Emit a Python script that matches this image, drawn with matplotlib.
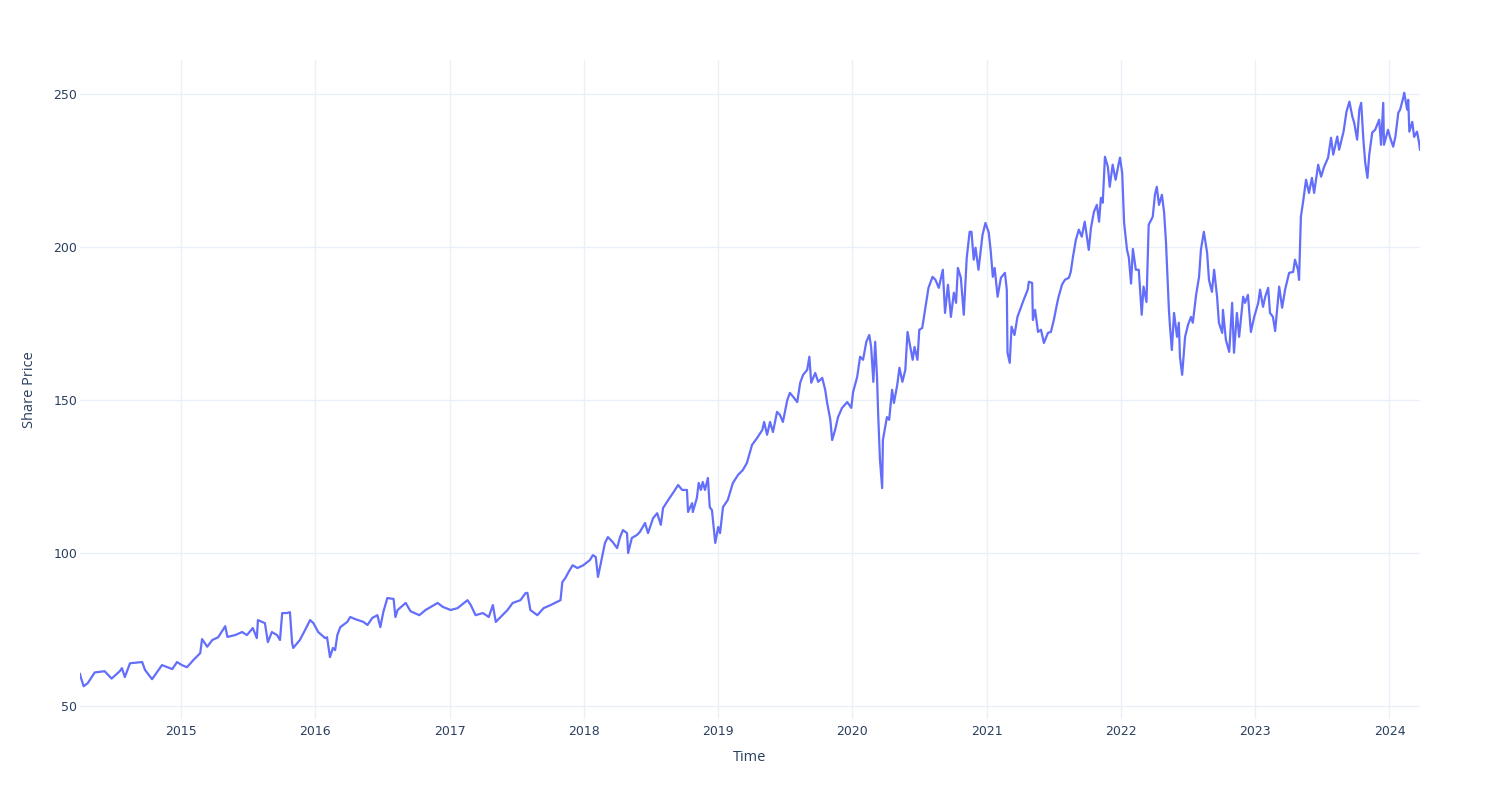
import pandas as pd
import numpy as np
from matplotlib import pyplot as plt
import matplotlib.dates as mdates

# Share price (approximate)
dates = [
    '2014-04-01', '2014-04-03', '2014-04-11', '2014-04-22', '2014-05-11', '2014-06-07', '2014-06-26',
    '2014-07-18', '2014-07-24', '2014-08-01', '2014-08-15', '2014-09-17', '2014-09-25', '2014-10-14',
    '2014-11-10', '2014-12-08', '2014-12-21',
    '2015-01-03', '2015-01-17', '2015-02-03', '2015-02-22', '2015-02-27', '2015-03-13', '2015-03-27',
    '2015-04-12', '2015-05-01', '2015-05-07', '2015-05-28', '2015-06-16', '2015-06-29', '2015-07-15',
    '2015-07-26', '2015-07-29', '2015-08-17', '2015-08-25', '2015-09-05', '2015-09-19', '2015-09-27',
    '2015-10-03', '2015-10-16', '2015-10-24', '2015-10-30', '2015-11-02', '2015-11-20', '2015-12-04',
    '2015-12-18', '2015-12-27',
    '2016-01-09', '2016-01-28', '2016-02-02', '2016-02-10', '2016-02-18', '2016-02-24', '2016-03-01',
    '2016-03-09', '2016-03-28', '2016-04-05', '2016-04-19', '2016-05-11', '2016-05-22', '2016-06-04',
    '2016-06-18', '2016-06-26', '2016-07-04', '2016-07-15', '2016-08-01', '2016-08-06', '2016-08-12',
    '2016-09-03', '2016-09-16', '2016-10-10', '2016-10-27', '2016-11-29', '2016-12-13',
    '2017-01-03', '2017-01-22', '2017-02-18', '2017-02-27', '2017-03-12', '2017-04-01', '2017-04-17',
    '2017-04-28', '2017-05-06', '2017-05-19', '2017-06-07', '2017-06-21', '2017-07-12', '2017-07-26',
    '2017-07-31', '2017-08-08', '2017-08-27', '2017-09-13', '2017-10-02', '2017-10-29', '2017-11-03',
    '2017-11-11', '2017-11-20', '2017-12-01', '2017-12-14', '2017-12-30',
    '2018-01-17', '2018-01-25', '2018-02-02', '2018-02-08', '2018-02-19', '2018-02-27', '2018-03-07',
    '2018-03-20', '2018-04-01', '2018-04-09', '2018-04-17', '2018-04-28', '2018-05-01', '2018-05-11',
    '2018-05-25', '2018-06-02', '2018-06-16', '2018-06-24', '2018-07-08', '2018-07-19', '2018-07-29',
    '2018-08-04', '2018-08-18', '2018-08-31', '2018-09-14', '2018-09-25', '2018-10-08', '2018-10-11',
    '2018-10-22', '2018-10-24', '2018-11-04', '2018-11-09', '2018-11-15', '2018-11-20', '2018-11-26',
    '2018-12-04', '2018-12-09', '2018-12-15', '2018-12-24',
    '2019-01-01', '2019-01-06', '2019-01-14', '2019-01-27', '2019-02-10', '2019-02-24', '2019-03-09',
    '2019-03-20', '2019-04-03', '2019-04-17', '2019-05-01', '2019-05-06', '2019-05-14', '2019-05-22',
    '2019-05-30', '2019-06-10', '2019-06-18', '2019-06-26', '2019-07-08', '2019-07-15', '2019-07-24',
    '2019-08-04', '2019-08-12', '2019-08-20', '2019-08-31', '2019-09-06', '2019-09-11', '2019-09-22',
    '2019-09-30', '2019-10-11', '2019-10-19', '2019-10-24', '2019-11-02', '2019-11-07', '2019-11-15',
    '2019-11-23', '2019-12-04', '2019-12-18', '2019-12-29',
    '2020-01-03', '2020-01-14', '2020-01-22', '2020-01-30', '2020-02-08', '2020-02-16', '2020-02-21',
    '2020-02-27', '2020-03-03', '2020-03-08', '2020-03-11', '2020-03-16', '2020-03-22', '2020-03-24',
    '2020-04-04', '2020-04-10', '2020-04-18', '2020-04-23', '2020-05-02', '2020-05-08', '2020-05-16',
    '2020-05-24', '2020-05-30', '2020-06-07', '2020-06-13', '2020-06-18', '2020-06-26', '2020-07-01',
    '2020-07-09', '2020-07-18', '2020-07-26', '2020-08-06', '2020-08-14', '2020-08-23', '2020-09-03',
    '2020-09-09', '2020-09-17', '2020-09-25', '2020-10-03', '2020-10-09', '2020-10-14', '2020-10-22',
    '2020-10-30', '2020-11-07', '2020-11-15', '2020-11-20', '2020-11-26', '2020-12-01', '2020-12-09',
    '2020-12-20', '2020-12-28',
    '2021-01-06', '2021-01-11', '2021-01-17', '2021-01-22', '2021-01-30', '2021-02-08', '2021-02-19',
    '2021-02-24', '2021-02-26', '2021-03-04', '2021-03-09', '2021-03-17', '2021-03-25', '2021-04-03',
    '2021-04-11', '2021-04-22', '2021-04-25', '2021-05-04', '2021-05-06', '2021-05-12', '2021-05-20',
    '2021-05-28', '2021-06-05', '2021-06-16', '2021-06-24', '2021-07-02', '2021-07-10', '2021-07-15',
    '2021-07-24', '2021-08-01', '2021-08-12', '2021-08-17', '2021-08-23', '2021-08-31', '2021-09-08',
    '2021-09-16', '2021-09-24', '2021-10-05', '2021-10-11', '2021-10-19', '2021-10-27', '2021-11-02',
    '2021-11-07', '2021-11-12', '2021-11-18', '2021-11-26', '2021-12-01', '2021-12-09', '2021-12-17',
    '2021-12-26', '2021-12-29',
    '2022-01-04', '2022-01-09', '2022-01-17', '2022-01-22', '2022-01-28', '2022-02-02', '2022-02-10',
    '2022-02-18', '2022-02-26', '2022-03-03', '2022-03-11', '2022-03-17', '2022-03-28', '2022-04-03',
    '2022-04-08', '2022-04-14', '2022-04-22', '2022-04-28', '2022-05-03', '2022-05-11', '2022-05-14',
    '2022-05-19', '2022-05-25', '2022-06-02', '2022-06-07', '2022-06-10', '2022-06-16', '2022-06-24',
    '2022-07-02', '2022-07-10', '2022-07-15', '2022-07-24', '2022-08-01', '2022-08-06', '2022-08-14',
    '2022-08-23', '2022-08-28', '2022-09-05', '2022-09-11', '2022-09-19', '2022-09-24', '2022-10-03',
    '2022-10-05', '2022-10-13', '2022-10-22', '2022-10-30', '2022-11-04', '2022-11-12', '2022-11-18',
    '2022-11-29', '2022-12-04', '2022-12-12', '2022-12-20', '2022-12-29',
    '2023-01-09', '2023-01-14', '2023-01-22', '2023-01-28', '2023-02-05', '2023-02-10', '2023-02-18',
    '2023-02-24', '2023-03-07', '2023-03-15', '2023-03-23', '2023-04-03', '2023-04-14', '2023-04-19',
    '2023-04-27', '2023-04-30', '2023-05-05', '2023-05-11', '2023-05-19', '2023-05-27', '2023-06-04',
    '2023-06-10', '2023-06-21', '2023-06-29', '2023-07-07', '2023-07-18', '2023-07-26', '2023-08-01',
    '2023-08-12', '2023-08-17', '2023-08-29', '2023-09-06', '2023-09-14', '2023-09-22', '2023-09-27',
    '2023-10-05', '2023-10-11', '2023-10-16', '2023-10-22', '2023-10-27', '2023-11-02', '2023-11-07',
    '2023-11-15', '2023-11-23', '2023-12-04', '2023-12-09', '2023-12-15', '2023-12-17', '2023-12-28',
    '2024-01-03', '2024-01-11', '2024-01-17', '2024-01-25', '2024-01-30', '2024-02-08', '2024-02-10',
    '2024-02-18', '2024-02-21', '2024-02-24', '2024-03-03', '2024-03-08', '2024-03-16', '2024-03-21',
    '2024-03-24',
]
price = [
    60.5, 59.5, 56.5, 57.5, 61.0, 61.4, 59.0,
    61.4, 62.4, 59.5, 64.0, 64.4, 61.8, 58.8,
    63.4, 62.1, 64.4,
    63.4, 62.7, 65.0, 67.3, 71.9, 69.4, 71.6,
    72.5, 76.1, 72.6, 73.2, 74.2, 73.2, 75.5,
    72.2, 78.1, 77.1, 70.9, 74.2, 73.2, 71.6,
    80.4, 80.4, 80.7, 70.6, 69.0, 71.6, 74.8,
    78.1, 77.1,
    74.2, 72.2, 72.5, 66.0, 69.0, 68.3, 73.2,
    75.8, 77.5, 79.1, 78.4, 77.5, 76.5, 78.8,
    79.7, 75.8, 80.7, 85.3, 85.0, 79.1, 81.4,
    83.7, 81.0, 79.7, 81.4, 83.7, 82.4,
    81.4, 82.0, 84.6, 83.0, 79.7, 80.4, 79.1,
    83.0, 77.5, 79.1, 81.4, 83.7, 84.6, 86.9,
    87.0, 81.4, 79.7, 82.0, 83.0, 84.6, 90.5,
    91.8, 93.8, 96.0, 95.1, 96.0,
    97.7, 99.3, 98.7, 92.2, 98.7, 103.3, 105.2,
    103.6, 101.6, 105.2, 107.5, 106.5, 100.0, 104.9,
    105.9, 106.9, 109.8, 106.5, 111.4, 113.0, 109.2,
    114.7, 117.3, 119.6, 122.2, 120.6, 120.6, 113.4,
    116.3, 113.4, 118.0, 122.9, 120.6, 123.2, 120.6,
    124.5, 115.0, 114.0, 103.3,
    108.5, 106.5, 115.0, 117.3, 122.9, 125.5, 127.1,
    129.4, 135.3, 137.6, 140.2, 142.8, 138.6, 142.8,
    139.5, 146.1, 145.1, 142.8, 150.0, 152.3, 151.0,
    149.3, 155.6, 158.2, 159.8, 164.1, 155.6, 158.8,
    155.9, 157.2, 153.3, 149.3, 143.5, 136.9, 140.2,
    144.4, 147.4, 149.3, 147.4,
    152.6, 157.5, 164.1, 163.1, 169.0, 171.2, 167.3,
    155.9, 169.0, 157.5, 145.8, 130.4, 121.2, 136.9,
    144.4, 143.5, 153.3, 149.0, 154.9, 160.5, 155.9,
    159.8, 172.2, 167.0, 163.1, 167.3, 163.1, 172.9,
    173.5, 180.4, 186.6, 190.2, 189.2, 186.6, 192.5,
    178.4, 187.6, 177.1, 185.0, 181.7, 193.1, 189.9,
    177.8, 196.4, 204.9, 204.9, 195.8, 199.7, 192.5,
    203.9, 207.8,
    204.6, 199.0, 190.2, 193.1, 183.7, 189.9, 191.5,
    186.0, 165.4, 162.1, 173.9, 171.2, 177.1, 180.1,
    182.7, 186.0, 188.6, 188.2, 176.1, 179.4, 172.2,
    172.9, 168.6, 171.9, 172.2, 176.1, 181.0, 183.7,
    187.6, 189.2, 189.9, 191.8, 196.7, 202.3, 205.6,
    203.3, 208.2, 199.0, 206.2, 211.4, 213.7, 208.2,
    216.0, 214.4, 229.4, 226.1, 219.6, 226.8, 221.9,
    227.5, 229.1,
    224.0, 208.0, 199.0, 196.5, 188.0, 199.3, 192.5,
    192.5, 177.8, 187.0, 182.0, 207.2, 209.8, 217.0,
    219.6, 213.7, 217.0, 211.1, 201.6, 179.4, 173.9,
    166.3, 178.4, 170.6, 175.2, 164.1, 158.2, 170.6,
    174.5, 177.1, 175.2, 184.3, 190.2, 199.0, 204.9,
    198.0, 189.2, 185.3, 192.5, 183.7, 175.2, 171.9,
    179.4, 169.6, 165.7, 181.7, 165.4, 178.4, 170.6,
    183.7, 181.7, 184.3, 172.2, 177.1,
    181.7, 186.0, 180.4, 183.7, 186.6, 178.4, 177.1,
    172.5, 187.0, 180.1, 186.0, 191.5, 191.8, 195.8,
    192.5, 189.2, 209.8, 214.7, 221.9, 217.6, 222.5,
    217.6, 226.8, 222.9, 226.1, 229.1, 235.6, 230.1,
    236.0, 231.7, 237.6, 244.1, 247.4, 242.5, 240.5,
    235.0, 244.8, 247.0, 235.0, 227.5, 222.5, 230.1,
    237.3, 238.2, 241.5, 233.3, 247.0, 233.3, 238.2,
    235.6, 232.7, 235.9, 243.8, 244.8, 249.0, 250.3,
    244.8, 248.0, 237.6, 240.8, 235.9, 237.6, 234.3,
    231.7,
]

df = pd.DataFrame({'Time': pd.to_datetime(dates), 'Share Price': price})

text_col = '#2a3f5f'
grid_col = '#ebf0f8'
plt.rcParams['font.family'] = ['DejaVu Sans']

fig = plt.figure(figsize=(15, 8), dpi=100)
ax = fig.add_axes([80 / 1500, 1 - 719 / 800, 1340 / 1500, 659 / 800])

ax.plot(df['Time'], df['Share Price'], color='#636efa', lw=1.6, zorder=3)

ax.set_xlim(df['Time'].min(), df['Time'].max())
ax.set_ylim(45.8, 261)
ax.set_yticks([50, 100, 150, 200, 250])
ax.xaxis.set_major_locator(mdates.YearLocator())
ax.xaxis.set_major_formatter(mdates.DateFormatter('%Y'))

ax.grid(True, color=grid_col, lw=1)
ax.set_axisbelow(True)
for s in ax.spines.values():
    s.set_visible(False)
ax.tick_params(length=0, colors=text_col, labelsize=9)
ax.tick_params(axis='x', pad=4)
ax.tick_params(axis='y', pad=2)

ax.set_xlabel('Time', family='Open Sans', fontsize=10.5, color=text_col, labelpad=9)
ax.set_ylabel('Share Price', family='Open Sans', fontsize=10.5, color=text_col, labelpad=12)

fig.savefig('out.png', dpi=100)
